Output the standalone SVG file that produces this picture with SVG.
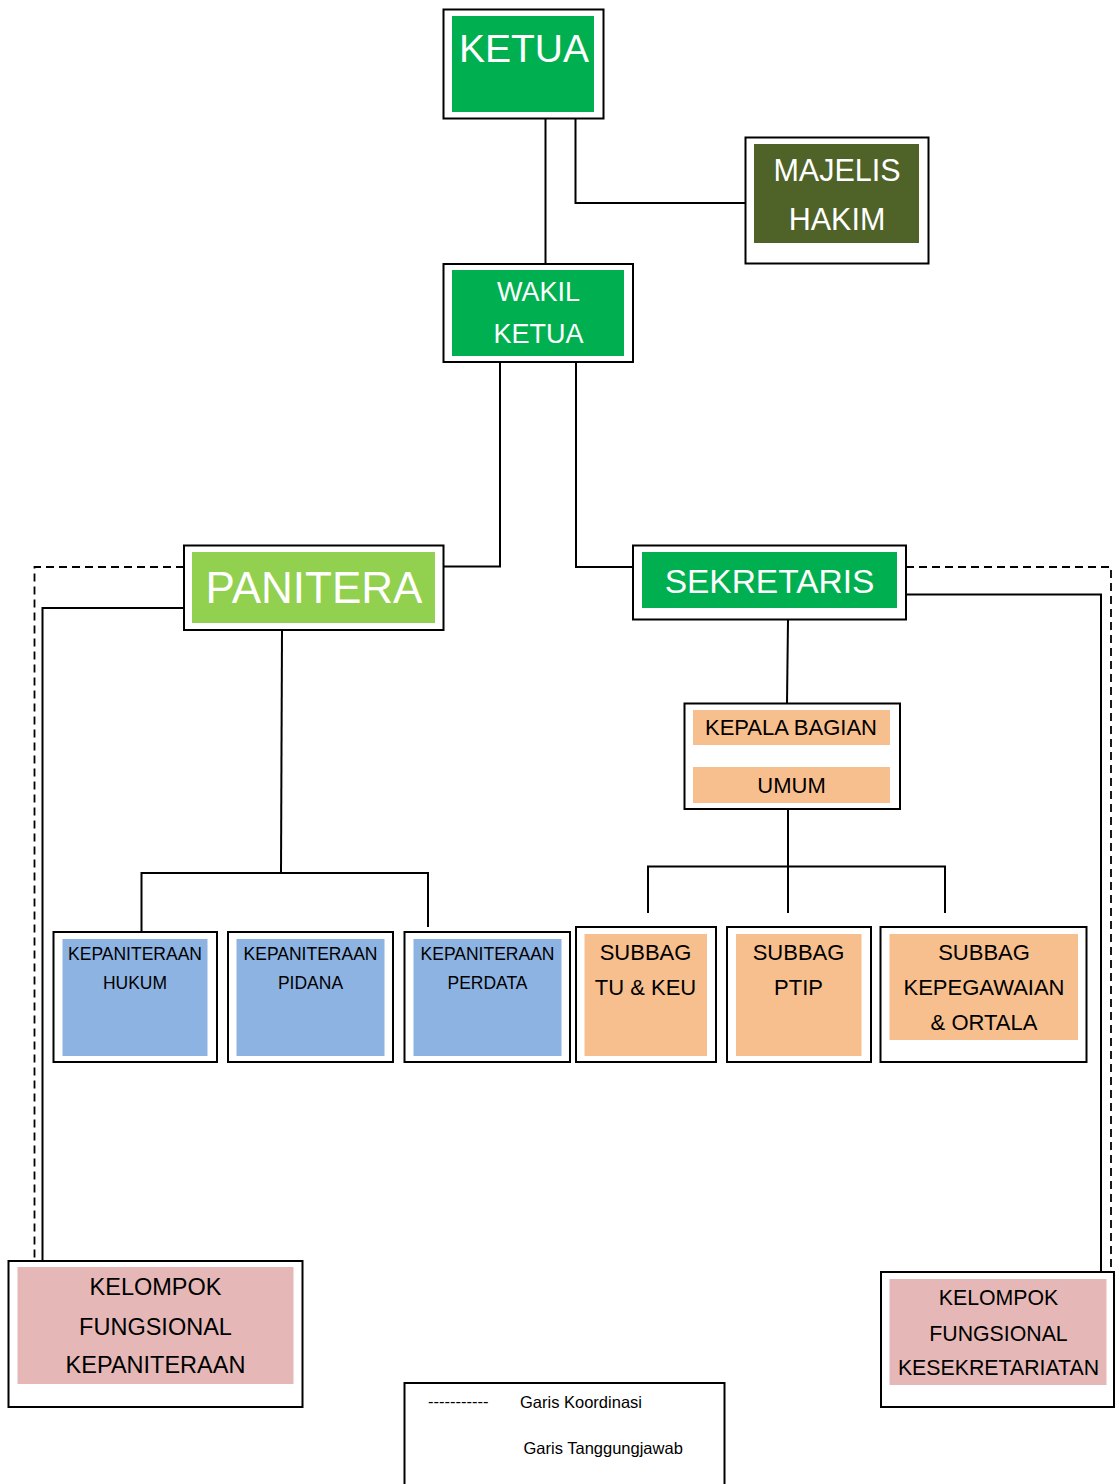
<svg xmlns="http://www.w3.org/2000/svg" width="1115" height="1484" viewBox="0 0 1115 1484">
<style>
.outer{fill:#fff;stroke:#000;stroke-width:2}
.ln{fill:none;stroke:#000;stroke-width:2}
.dash{fill:none;stroke:#000;stroke-width:1.8;stroke-dasharray:8 5}
.t{font-family:"Liberation Sans",Arial,sans-serif;text-anchor:middle}
.lg{font-family:"Liberation Sans",Arial,sans-serif;font-size:16.5px;fill:#000}
.w{fill:#fff}
.k{fill:#000}
.green{fill:#00B050}
.lime{fill:#92D050}
.olive{fill:#4F6228}
.blue{fill:#8DB3E2}
.peach{fill:#F8BF8E}
.pink{fill:#E5B8B7}
</style>
<rect width="1115" height="1484" fill="#fff"/>
<g id="connectors">
<path class="ln" d="M545.5,118 V264"/>
<path class="ln" d="M575.5,118 V203 H745"/>
<path class="ln" d="M500,362 V566.5 H444"/>
<path class="ln" d="M576,362 V567 H633"/>
<path class="dash" d="M184,567 H34.5 V1261"/>
<path class="ln" d="M184,608 H42.5 V1261"/>
<path class="dash" d="M906,567 H1111 V1272"/>
<path class="ln" d="M906,594.5 H1101 V1272"/>
<path class="ln" d="M282,630 L281,872"/>
<path class="ln" d="M141.5,931 V873 H428 V927"/>
<path class="ln" d="M788,620 L787,703"/>
<path class="ln" d="M788,809 V913"/>
<path class="ln" d="M648,913 V866.5 H945 V913"/>
</g>
<g id="ketua">
<rect class="outer" x="443.5" y="9.5" width="160" height="109"/>
<rect class="green" x="452" y="16" width="142" height="96"/>
<text class="t w" x="524" y="62" font-size="39">KETUA</text>
</g>
<g id="majelis-hakim">
<rect class="outer" x="745.5" y="137.5" width="183" height="126"/>
<rect class="olive" x="754" y="144" width="165" height="99"/>
<text class="t w" x="837" y="181" font-size="30.5">MAJELIS</text>
<text class="t w" x="837" y="230" font-size="30.5">HAKIM</text>
</g>
<g id="wakil-ketua">
<rect class="outer" x="443.5" y="264" width="189.5" height="98"/>
<rect class="green" x="452" y="270" width="172" height="86"/>
<text class="t w" x="538.5" y="301" font-size="27">WAKIL</text>
<text class="t w" x="538.5" y="343" font-size="27">KETUA</text>
</g>
<g id="panitera">
<rect class="outer" x="184" y="545.5" width="259.5" height="84.5"/>
<rect class="lime" x="192" y="552" width="243" height="71"/>
<text class="t w" x="314" y="603" font-size="44">PANITERA</text>
</g>
<g id="sekretaris">
<rect class="outer" x="633" y="545.5" width="273" height="74"/>
<rect class="green" x="642" y="552" width="255" height="56"/>
<text class="t w" x="769.5" y="593" font-size="33.5">SEKRETARIS</text>
</g>
<g id="kepala-bagian-umum">
<rect class="outer" x="684.5" y="703.5" width="215.5" height="105.5"/>
<rect class="peach" x="693" y="710" width="197" height="35"/>
<rect class="peach" x="693" y="767" width="197" height="36"/>
<text class="t k" x="791" y="735" font-size="22">KEPALA BAGIAN</text>
<text class="t k" x="791.5" y="793" font-size="22">UMUM</text>
</g>
<g id="kepaniteraan-hukum">
<rect class="outer" x="53.5" y="932" width="163.5" height="130"/>
<rect class="blue" x="62.5" y="939" width="145" height="117"/>
<text class="t k" x="135" y="960" font-size="17.5">KEPANITERAAN</text>
<text class="t k" x="135" y="988.5" font-size="17.5">HUKUM</text>
</g>
<g id="kepaniteraan-pidana">
<rect class="outer" x="228" y="932" width="165" height="130"/>
<rect class="blue" x="236.5" y="939" width="148" height="117"/>
<text class="t k" x="310.5" y="960" font-size="17.5">KEPANITERAAN</text>
<text class="t k" x="310.5" y="988.5" font-size="17.5">PIDANA</text>
</g>
<g id="kepaniteraan-perdata">
<rect class="outer" x="404.5" y="932" width="165.5" height="130"/>
<rect class="blue" x="413.5" y="939" width="148" height="117"/>
<text class="t k" x="487.5" y="960" font-size="17.5">KEPANITERAAN</text>
<text class="t k" x="487.5" y="988.5" font-size="17.5">PERDATA</text>
</g>
<g id="subbag-tu-keu">
<rect class="outer" x="576" y="927" width="140" height="135"/>
<rect class="peach" x="584.5" y="934" width="122.5" height="122"/>
<text class="t k" x="645.5" y="960" font-size="22">SUBBAG</text>
<text class="t k" x="645.5" y="995" font-size="22">TU &amp; KEU</text>
</g>
<g id="subbag-ptip">
<rect class="outer" x="727" y="927" width="144" height="135"/>
<rect class="peach" x="736" y="934" width="125.5" height="122"/>
<text class="t k" x="798.5" y="960" font-size="22">SUBBAG</text>
<text class="t k" x="798.5" y="995" font-size="22">PTIP</text>
</g>
<g id="subbag-kepegawaian-ortala">
<rect class="outer" x="880.5" y="927" width="206" height="135"/>
<rect class="peach" x="889.5" y="934" width="188.5" height="106"/>
<text class="t k" x="984" y="960" font-size="22">SUBBAG</text>
<text class="t k" x="984" y="995" font-size="22">KEPEGAWAIAN</text>
<text class="t k" x="984" y="1030" font-size="22">&amp; ORTALA</text>
</g>
<g id="kelompok-fungsional-kepaniteraan">
<rect class="outer" x="8.5" y="1261" width="294" height="146"/>
<rect class="pink" x="17.5" y="1267" width="276" height="117"/>
<text class="t k" x="155.5" y="1295" font-size="23.5">KELOMPOK</text>
<text class="t k" x="155.5" y="1335" font-size="23.5">FUNGSIONAL</text>
<text class="t k" x="155.5" y="1372.5" font-size="23.5">KEPANITERAAN</text>
</g>
<g id="kelompok-fungsional-kesekretariatan">
<rect class="outer" x="881" y="1272" width="233" height="135"/>
<rect class="pink" x="889.5" y="1279" width="217" height="106"/>
<text class="t k" x="998.5" y="1304.5" font-size="21.3">KELOMPOK</text>
<text class="t k" x="998.5" y="1341" font-size="21.3">FUNGSIONAL</text>
<text class="t k" x="998.5" y="1375" font-size="21.3">KESEKRETARIATAN</text>
</g>
<g id="legend">
<rect class="outer" x="404.5" y="1383" width="320" height="120"/>
<text class="lg" x="428" y="1407">-----------</text>
<text class="lg" x="520" y="1407.5">Garis Koordinasi</text>
<text class="lg" x="523.5" y="1454">Garis Tanggungjawab</text>
</g>
</svg>
